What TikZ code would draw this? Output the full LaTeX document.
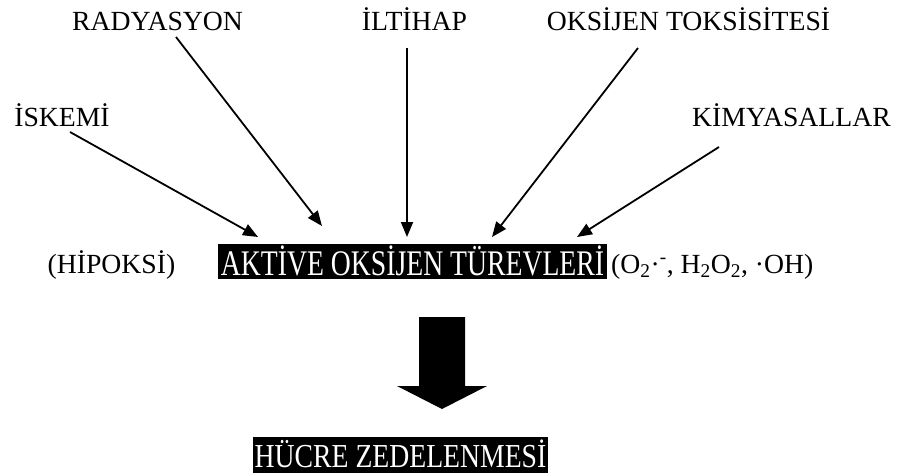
\documentclass[tikz,border=0pt]{standalone}
\usepackage{fontspec}
\setmainfont{Liberation Serif}
\usetikzlibrary{arrows.meta}

\tikzset{
  label/.style={font=\fontsize{27.7}{30}\selectfont, inner sep=0pt, anchor=base},
  darkbox/.style={fill=black, text=white, inner xsep=0pt, inner ysep=0pt,
                  font=\fontsize{27.7}{30}\selectfont},
  cause/.style={line width=1.8pt, -{Triangle[length=15pt,width=12pt]}},
  bigarrow/.style={fill=black, draw=none}
}

\begin{document}
\begin{tikzpicture}[x=1pt, y=-1pt]
  \useasboundingbox (0,0) rectangle (902,474);

  % causes
  \node[label] (rad)  at (157.5,30)  {RADYASYON};
  \node[label] (ilt)  at (414.5,30)  {İLTİHAP};
  \node[label] (oks)  at (688.5,30)  {OKSİJEN TOKSİSİTESİ};
  \node[label] (isk)  at (62,126)    {İSKEMİ};
  \node[label] (kim)  at (791.5,126) {KİMYASALLAR};

  % central row
  \node[label] (hip)  at (111.5,273) {(HİPOKSİ)};
  \node[darkbox, minimum width=389pt, minimum height=35pt,
        text height=31pt, text depth=4pt] (aot) at (412.5,261.5)
        {\scalebox{1}[1.3]{AKTİVE OKSİJEN TÜREVLERİ}};
  \node[label, anchor=base west] (rad2) at (611,273)
        {(O\textsubscript{2}·\textsuperscript{-}, H\textsubscript{2}O\textsubscript{2}, ·OH)};

  % outcome
  \node[darkbox, minimum width=295pt, minimum height=36pt,
        text height=30pt, text depth=6pt] (hz) at (400.5,455)
        {\scalebox{1}[1.21]{HÜCRE ZEDELENMESİ}};

  % arrow ends
  \coordinate (iskS) at (70,132);   \coordinate (iskE) at (258,237);
  \coordinate (radS) at (176,37);   \coordinate (radE) at (322,226);
  \coordinate (iltS) at (407,48);   \coordinate (iltE) at (407,237);
  \coordinate (oksS) at (638,48);   \coordinate (oksE) at (492,237);
  \coordinate (kimS) at (719,147);  \coordinate (kimE) at (577,237);

  \draw[cause] (iskS) -- (iskE);
  \draw[cause] (radS) -- (radE);
  \draw[cause] (iltS) -- (iltE);
  \draw[cause] (oksS) -- (oksE);
  \draw[cause] (kimS) -- (kimE);

  % block arrow to the outcome
  \fill[bigarrow] (419,317) -- (465,317) -- (465,386) -- (487,386)
        -- (442,409) -- (397,386) -- (419,386) -- cycle;
\end{tikzpicture}
\end{document}
